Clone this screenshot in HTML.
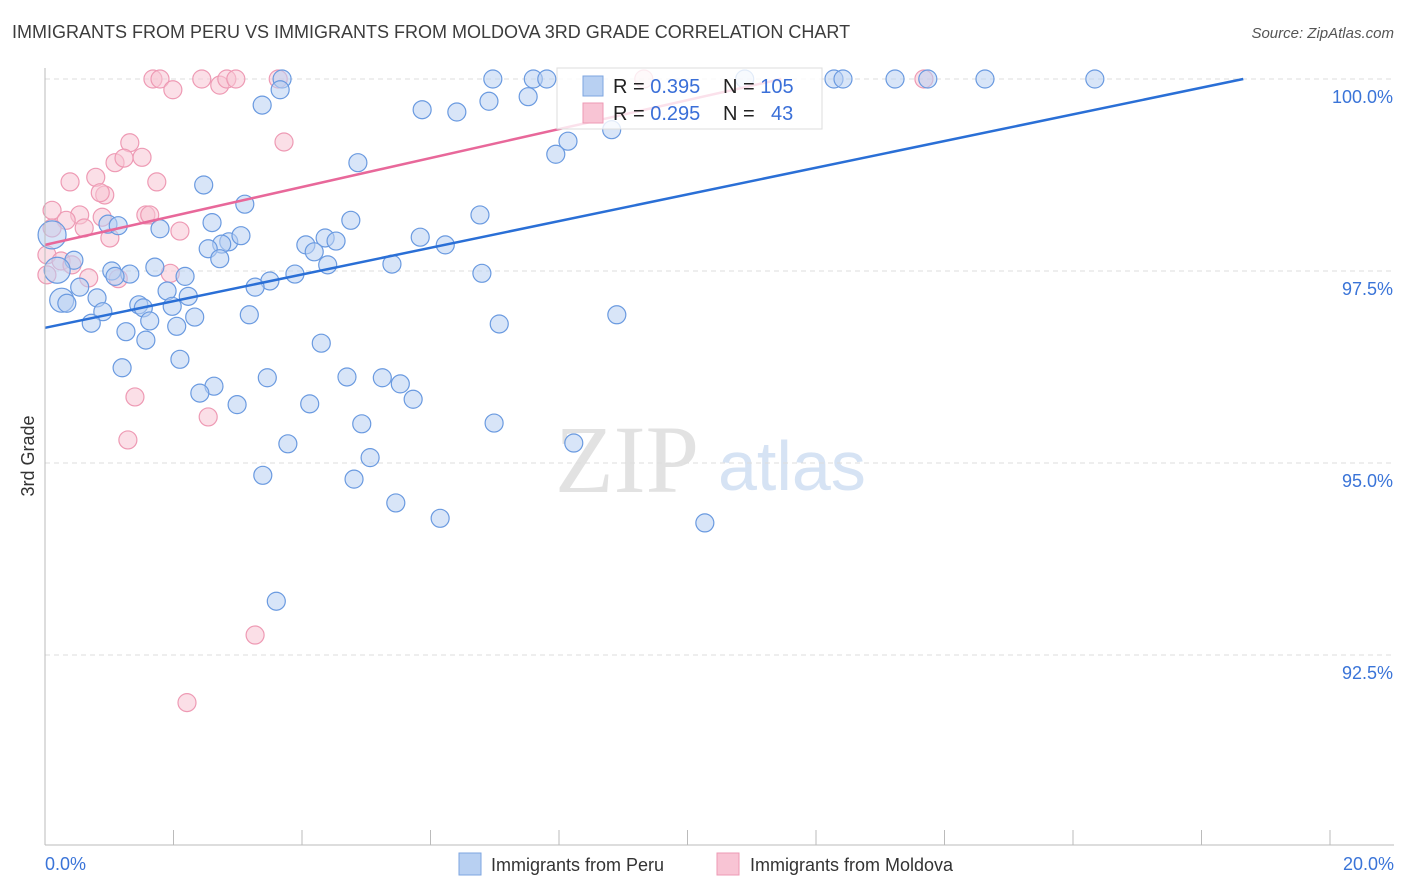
<!DOCTYPE html>
<html><head><meta charset="utf-8"><style>
body{margin:0;background:#fff;font-family:"Liberation Sans",sans-serif;}
#wrap{position:relative;width:1406px;height:892px;overflow:hidden;}
.t{position:absolute;white-space:nowrap;}
</style></head><body>
<div id="wrap">
<div class="t" style="left:12px;top:22px;font-size:18px;color:#3c3c3c;">IMMIGRANTS FROM PERU VS IMMIGRANTS FROM MOLDOVA 3RD GRADE CORRELATION CHART</div>
<div class="t" style="right:12px;top:25px;font-size:15px;color:#555;font-style:italic;">Source: ZipAtlas.com</div>
<svg id="svg" width="1406" height="892" style="position:absolute;left:0;top:0">
<text x="555" y="492" font-family="Liberation Serif" font-size="96" fill="#e2e2e2">ZIP</text>
<text x="718" y="490" font-family="Liberation Sans" font-size="70" fill="#d6e3f4">atlas</text>
<g id="grid"></g><g id="pts"></g><g id="lines"></g>
<line x1="45" y1="68" x2="45" y2="845" stroke="#bbb"/>
<line x1="45" y1="845" x2="1394" y2="845" stroke="#bbb"/>
<g id="xt"></g>
<text x="-456" y="34" transform="rotate(-90)" text-anchor="middle" font-size="18" fill="#333">3rd Grade</text>
<text x="45" y="870" font-size="18" fill="#3a74d8">0.0%</text>
<text x="1394" y="870" text-anchor="end" font-size="18" fill="#3a74d8">20.0%</text>
<g>
<rect x="557" y="68" width="265" height="61" fill="#fff" fill-opacity="0.8" stroke="#ddd"/>
<rect x="583" y="76" width="20" height="20" fill="#b8d0f2" stroke="#7ea6e0"/>
<rect x="583" y="103" width="20" height="20" fill="#f8c4d4" stroke="#ee9ab4"/>
<text x="613" y="93" font-size="20" fill="#222">R = <tspan fill="#3a6fd8">0.395</tspan><tspan x="723">N = </tspan><tspan fill="#3a6fd8">105</tspan></text>
<text x="613" y="120" font-size="20" fill="#222">R = <tspan fill="#3a6fd8">0.295</tspan><tspan x="723">N = </tspan><tspan x="771" fill="#3a6fd8">43</tspan></text>
</g>
<g><rect x="459" y="853" width="22" height="22" fill="#b8d0f2" stroke="#7ea6e0"/><text x="491" y="871" font-size="18" fill="#333">Immigrants from Peru</text></g>
<g><rect x="717" y="853" width="22" height="22" fill="#f8c4d4" stroke="#ee9ab4"/><text x="750" y="871" font-size="18" fill="#333">Immigrants from Moldova</text></g>
</svg>
</div>
<script>
const yTicks=[100,97.5,95,92.5];
const yTickLabels=["100.0%","97.5%","95.0%","92.5%"];
const xTicks=[0,2,4,6,8,10,12,14,16,18,20];
const peruX=[3.69,6.97,7.60,7.81,10.89,12.28,12.42,13.23,13.74,14.63,16.34,3.66,3.38,5.87,6.41,6.91,7.52,8.14,8.82,7.95,4.87,2.47,3.11,4.76,6.77,2.60,1.79,0.98,1.14,5.84,6.23,4.06,4.36,4.53,2.86,3.05,2.75,2.54,2.72,4.19,0.11,0.45,0.19,1.04,1.32,1.71,2.18,3.50,3.89,4.40,5.40,6.80,3.27,0.54,0.26,0.34,0.81,0.90,1.09,1.46,1.53,1.90,2.23,1.98,2.33,1.63,0.72,2.05,3.18,1.57,1.26,7.07,8.90,4.30,2.10,1.20,3.46,4.70,5.25,5.53,5.73,2.63,2.41,2.99,4.12,4.93,6.99,8.23,3.78,5.06,3.39,4.81,5.46,6.15,10.27,3.60];
const peruY=[100,100,100,100,100,100,100,100,100,100,100,99.86,99.66,99.60,99.57,99.71,99.77,99.19,99.34,99.02,98.91,98.62,98.37,98.16,98.23,98.13,98.05,98.11,98.09,97.94,97.84,97.84,97.93,97.89,97.88,97.96,97.85,97.79,97.66,97.75,97.97,97.64,97.51,97.50,97.46,97.55,97.43,97.37,97.46,97.58,97.59,97.47,97.29,97.29,97.12,97.08,97.15,96.97,97.43,97.06,97.02,97.24,97.17,97.04,96.90,96.85,96.82,96.78,96.93,96.60,96.71,96.81,96.93,96.56,96.35,96.24,96.11,96.12,96.11,96.03,95.83,96.00,95.91,95.76,95.77,95.51,95.52,95.26,95.25,95.07,94.84,94.79,94.48,94.28,94.22,93.20];
const moldX=[1.68,1.79,2.44,2.72,2.83,2.97,3.63,9.32,13.68,1.99,3.72,1.32,1.51,1.09,1.23,0.79,0.39,1.74,0.93,0.86,0.11,0.54,0.33,1.57,1.63,2.10,0.61,1.01,0.11,0.03,0.25,0.42,0.03,0.68,1.14,1.95,1.40,1.29,2.54,3.27,2.21,0.89];
const moldY=[100,100,100,99.92,100,100,100,100,100,99.86,99.18,99.17,98.98,98.91,98.97,98.72,98.66,98.66,98.49,98.52,98.29,98.23,98.16,98.23,98.23,98.02,98.06,97.93,98.06,97.71,97.63,97.58,97.45,97.41,97.40,97.47,95.86,95.30,95.60,92.76,91.88,98.20];
const peruTrend=[[0,96.76],[18.65,100]];
const moldTrend=[[0,97.84],[11.46,100]];
const big={40:14,42:13,54:12};
const X=v=>45+v*64.25, Y=v=>79+(100-v)*76.8;
const NS="http://www.w3.org/2000/svg";
function mk(t,a,p){const e=document.createElementNS(NS,t);for(const k in a)e.setAttribute(k,a[k]);p.appendChild(e);return e;}
const grid=document.getElementById('grid');
yTicks.forEach((v,i)=>{
 const l=mk('line',{x1:45,x2:1394,y1:Y(v),y2:Y(v),stroke:'#ddd','stroke-dasharray':'5,4'},grid);
 
 
 const t=mk('text',{x:1393,y:Y(v)+24,'text-anchor':'end','font-size':18,fill:'#3a74d8'},grid);
 t.textContent=yTickLabels[i];
 
 
});
const xt=document.getElementById('xt');
xTicks.forEach(v=>{
 const l=mk('line',{x1:X(v),x2:X(v),y1:830,y2:845,stroke:'#bbb'},xt);
 
 
});
const pts=document.getElementById('pts');
moldX.forEach((v,i)=>{
 const c=mk('circle',{cx:X(v),cy:Y(moldY[i]),r:9,fill:'#f8c4d4','fill-opacity':0.55,stroke:'#ee9ab4','stroke-width':1.2},pts);
 
 
});
peruX.forEach((v,i)=>{
 const c=mk('circle',{cx:X(v),cy:Y(peruY[i]),r:big[i]||9,fill:'#b8d0f2','fill-opacity':0.55,stroke:'#6a9ae0','stroke-width':1.2},pts);
 
 
});
const lines=document.getElementById('lines');
const lp=mk('line',{x1:X(peruTrend[0][0]),y1:Y(peruTrend[0][1]),x2:X(peruTrend[1][0]),y2:Y(peruTrend[1][1]),stroke:'#2a6fd6','stroke-width':2.5},lines);


const lm=mk('line',{x1:X(moldTrend[0][0]),y1:Y(moldTrend[0][1]),x2:X(moldTrend[1][0]),y2:Y(moldTrend[1][1]),stroke:'#e8689a','stroke-width':2.5},lines);


</script>
</body></html>
